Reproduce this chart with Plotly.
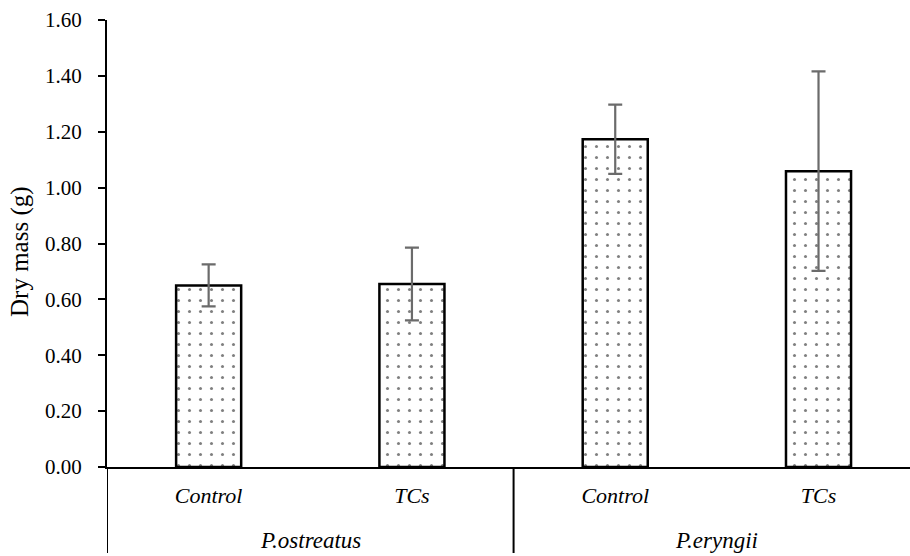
import plotly.graph_objects as go

treatments = ["Control", "TCs", "Control", "TCs"]
species = ["P.ostreatus", "P.eryngii"]
dry_mass = [0.65, 0.655, 1.173, 1.059]
errors = [0.075, 0.13, 0.124, 0.357]
y_ticks = [0.0, 0.2, 0.4, 0.6, 0.8, 1.0, 1.2, 1.4, 1.6]

x_pos = list(range(len(treatments)))
FONT = "'Liberation Serif', 'Times New Roman', Times, serif"

W, H = 910, 556
ML, MT, MB, MR = 107, 20, 89, 0
H_PLOT = H - MT - MB
W_PLOT = W - ML - MR


def py(px_below):
    return -px_below / H_PLOT


fig = go.Figure()
fig.add_trace(go.Bar(
    x=x_pos, y=dry_mass, width=0.32,
    marker=dict(
        color="white",
        line=dict(color="black", width=2.5),
        pattern=dict(shape=".", fgcolor="black", bgcolor="white", size=11, solidity=0.06),
    ),
    error_y=dict(type="data", array=errors, visible=True, color="#6b6b6b", thickness=2.2, width=7),
    showlegend=False,
))

# group labels
for i, name in enumerate(species):
    fig.add_annotation(x=2 * i + 0.5, y=py(73), xref="x", yref="paper", text=name,
                       showarrow=False, yanchor="middle",
                       font=dict(family=FONT, size=23, color="black", style="italic"))
# dividers
for xv in [-0.5, 1.5]:
    fig.add_shape(type="line", xref="x", yref="paper", x0=xv, x1=xv, y0=0, y1=py(86),
                  line=dict(color="black", width=2))

# y-axis title
fig.add_annotation(x=(20 - ML) / W_PLOT, y=(H - MB - 252) / H_PLOT, xref="paper", yref="paper",
                   text="Dry mass (g)", textangle=-90, showarrow=False,
                   xanchor="center", yanchor="middle",
                   font=dict(family=FONT, size=25, color="black"))

fig.update_layout(
    width=W, height=H,
    margin=dict(l=ML, r=MR, t=MT, b=MB, autoexpand=False),
    paper_bgcolor="white", plot_bgcolor="white",
    font=dict(family=FONT, color="black"),
    xaxis=dict(
        range=[-0.5, 3.45], showgrid=False, zeroline=False, automargin=False,
        showline=True, linecolor="black", linewidth=2,
        tickvals=x_pos, ticktext=treatments, ticks="",
        tickfont=dict(family=FONT, size=22, color="black", style="italic"),
        ticklabelstandoff=8,
    ),
    yaxis=dict(
        range=[0, 1.6], tickvals=y_ticks, tickformat=".2f", automargin=False,
        showgrid=False, zeroline=False,
        showline=True, linecolor="black", linewidth=2,
        ticks="outside", ticklen=7, tickwidth=2, tickcolor="black",
        tickfont=dict(family=FONT, size=21, color="black"),
        ticklabelstandoff=12,
    ),
)

fig.write_html("out.html", config={"displayModeBar": False},
               post_script="document.body.style.margin='0';")
